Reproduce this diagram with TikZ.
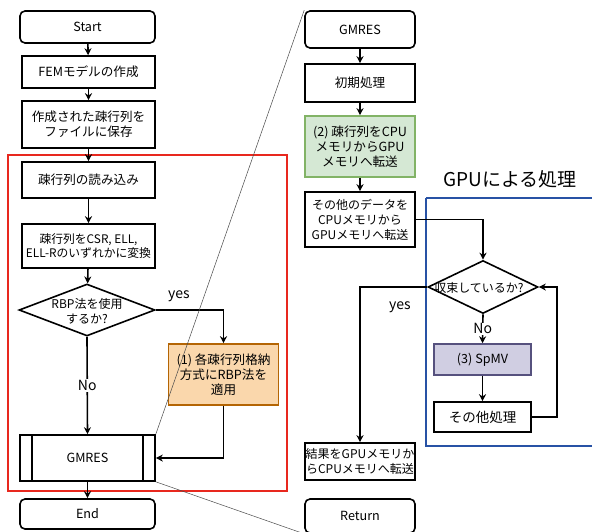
\documentclass[tikz,border=0pt]{standalone}
\usepackage{fontspec}
\setmainfont{Noto Sans CJK JP}
\usetikzlibrary{arrows.meta,shapes.geometric}
\definecolor{redframe}{RGB}{232,40,30}
\definecolor{blueframe}{RGB}{40,82,165}
\definecolor{orfill}{HTML}{FAD7AC}
\definecolor{ordraw}{HTML}{B46504}
\definecolor{grfill}{HTML}{D5E8D4}
\definecolor{grdraw}{HTML}{82B366}
\definecolor{pufill}{HTML}{D0CEE2}
\definecolor{pudraw}{HTML}{56517E}
\begin{document}
\begin{tikzpicture}[x=1pt,y=-1pt,
  box/.style={draw, line width=1.6pt, align=center, inner sep=1pt,
    font=\fontsize{12.6}{15}\selectfont},
  rbox/.style={box, rounded corners=5pt},
  dia/.style={draw, diamond, line width=1.6pt, inner sep=0pt},
  arr/.style={-{Stealth[length=7pt,width=7pt]}, line width=1.6pt},
  lbl/.style={font=\fontsize{14}{16}\selectfont, fill=white, inner sep=1pt},
  thinl/.style={draw=black!70, line width=0.5pt}]
\useasboundingbox (0,0) rectangle (592,531);
\fill[white] (0,0) rectangle (592,531);

% left column
\node[rbox, minimum width=135pt, minimum height=32pt] (start) at (87.5,27) {Start};
\node[box, minimum width=133pt, minimum height=32pt] (fem) at (88.5,72) {FEMモデルの作成};
\node[box, minimum width=133pt, minimum height=47pt] (save) at (88.5,124.5) {作成された疎行列を\\ファイルに保存};
\node[box, minimum width=133pt, minimum height=36pt] (read) at (88.5,180) {疎行列の読み込み};
\node[box, minimum width=133pt, minimum height=44pt, font=\fontsize{11.8}{14.5}\selectfont] (conv) at (88.5,246) {疎行列をCSR, ELL,\\ELL-Rのいずれかに変換};
\node[dia, minimum width=136pt, minimum height=52pt] (d1) at (87,310) {};
\node[font=\fontsize{12}{15}\selectfont, align=center] (d1t) at (87,311) {RBP法を使用\\するか?};
\node[box, draw=ordraw, fill=orfill, minimum width=110pt, minimum height=61pt] (rbp) at (223.5,374.5) {(1) 各疎行列格納\\方式にRBP法を\\適用};
\node[box, minimum width=135pt, minimum height=46pt] (g1) at (87.5,458) {GMRES};
\draw[line width=1.6pt] ([xshift=13pt]g1.north west) -- ([xshift=13pt]g1.south west);
\draw[line width=1.6pt] ([xshift=-13pt]g1.north east) -- ([xshift=-13pt]g1.south east);
\node[rbox, minimum width=135pt, minimum height=30pt] (end) at (87.5,514) {End};

\draw[redframe, line width=1.8pt] (8,155) rectangle (287,491);

\draw[arr] (start) -- (fem);
\draw[arr] (fem) -- (save);
\draw[arr] (save) -- (read);
\draw[arr] (read) -- (conv);
\draw[arr] (conv) -- (d1);
\draw[arr] (d1.east) -| (rbp.north);
\node[font=\fontsize{14}{16}\selectfont] (yes1) at (179,296) {yes};
\draw[arr] (d1.south) -- node[lbl] (no1) {No} (g1.north);
\draw[arr] (rbp.south) |- (g1.east);
\draw[arr] (g1) -- (end);

% right column
\node[rbox, minimum width=110pt, minimum height=37pt] (g2) at (360,29.5) {GMRES};
\node[box, minimum width=110pt, minimum height=38pt] (init) at (360,83) {初期処理};
\node[box, draw=grdraw, fill=grfill, minimum width=110pt, minimum height=61pt] (xfer) at (360,146.5) {(2) 疎行列をCPU\\メモリからGPU\\メモリへ転送};
\node[box, minimum width=110pt, minimum height=55pt, font=\fontsize{12}{15}\selectfont] (other) at (360,219.5) {その他のデータを\\CPUメモリから\\GPUメモリへ転送};
\node[font=\fontsize{19}{21}\selectfont] (title) at (510,179) {GPUによる処理};
\draw[blueframe, line width=1.8pt] (426,198) -- (600,198) (426,198) -- (426,446) -- (600,446);
\node[dia, minimum width=110pt, minimum height=53pt] (d2) at (483,287) {};
\node[font=\fontsize{12}{14}\selectfont, inner sep=0pt] (d2t) at (479,288) {収束しているか?};
\node[box, draw=pudraw, fill=pufill, minimum width=97pt, minimum height=31pt] (spmv) at (482.5,359.5) {(3) SpMV};
\node[box, minimum width=97pt, minimum height=30pt, font=\fontsize{13.5}{15}\selectfont] (oth2) at (482.5,417) {その他処理};
\node[box, minimum width=110pt, minimum height=37pt, font=\fontsize{12}{15}\selectfont] (res) at (360,461.5) {結果をGPUメモリか\\らCPUメモリへ転送};
\node[rbox, minimum width=110pt, minimum height=34pt] (ret) at (360,516) {Return};

\draw[arr] (g2) -- (init);
\draw[arr] (init) -- (xfer);
\draw[arr] (xfer) -- (other);
\draw[arr] (other.east) -| (d2.north);
\draw[arr] (d2.south) -- node[lbl] (no2) {No} (spmv.north);
\draw[arr] (spmv) -- (oth2);
\coordinate (lp) at (557,287);
\draw[arr] (oth2.east) -| (lp) -- (d2.east);
\draw[arr] (d2.west) -| (res.north);
\node[font=\fontsize{14}{16}\selectfont] (yes2) at (400,307) {yes};

% zoom lines
\draw[thinl] (g2.north west) -- (g1.north east);
\draw[thinl] (g1.south east) -- (ret.south west);
\end{tikzpicture}
\end{document}
